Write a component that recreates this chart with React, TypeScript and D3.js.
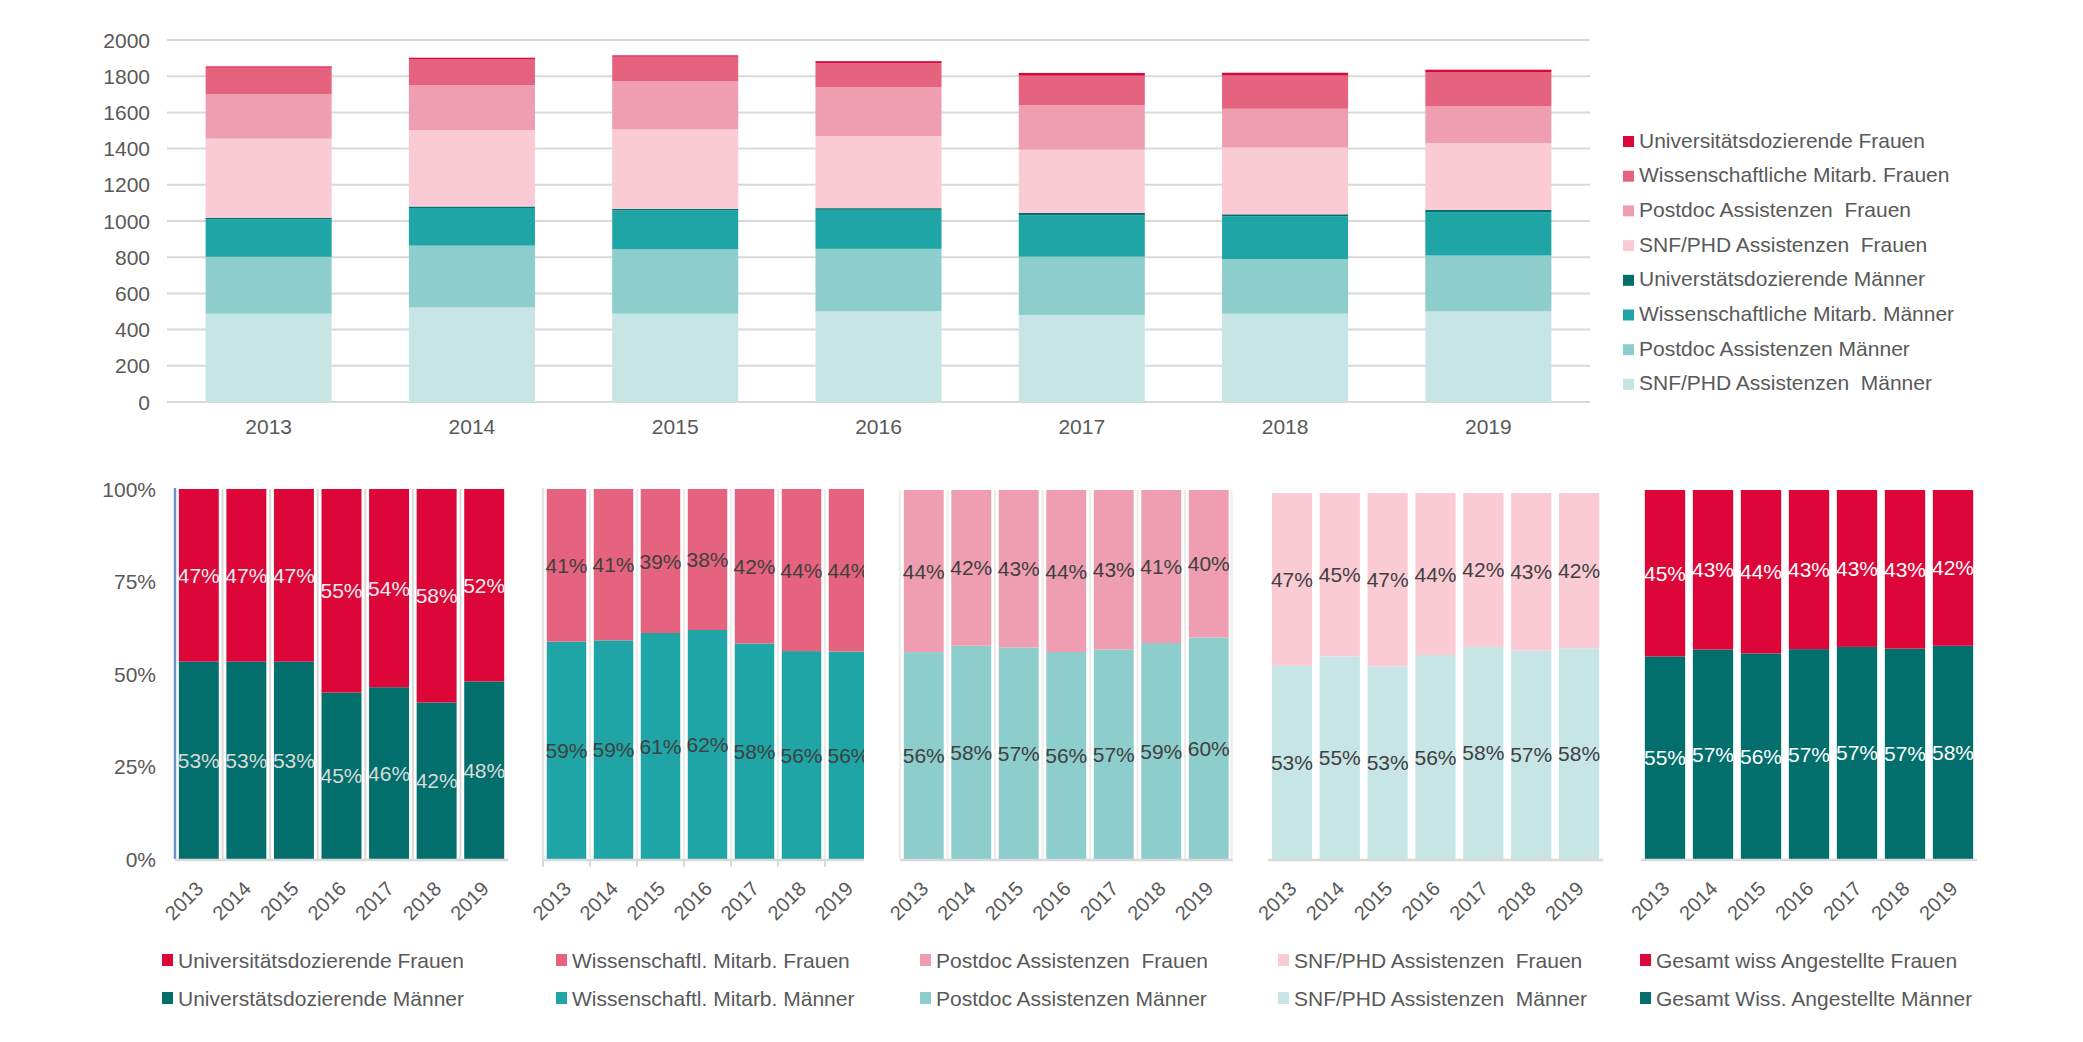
import * as d3 from 'd3'

// Jahre
const years = ['2013', '2014', '2015', '2016', '2017', '2018', '2019']

// Personen pro Kategorie
const snfM = [488, 523, 488, 501, 481, 488, 501]
const postdocM = [314, 341, 356, 345, 322, 302, 308]
const wissM = [208, 208, 215, 216, 229, 236, 240]
const uniM = [8, 8, 8, 9, 13, 11, 12]
const snfF = [437, 422, 439, 398, 349, 369, 369]
const postdocF = [246, 249, 265, 270, 245, 214, 205]
const wissF = [146, 144, 137, 133, 164, 184, 188]
const uniF = [7, 7, 7, 11, 15, 15, 13]

const yTicks = [0, 200, 400, 600, 800, 1000, 1200, 1400, 1600, 1800, 2000]
const pctTicks = [0, 0.25, 0.5, 0.75, 1]

const topLegend = [
  'Universitätsdozierende Frauen',
  'Wissenschaftliche Mitarb. Frauen',
  'Postdoc Assistenzen  Frauen',
  'SNF/PHD Assistenzen  Frauen',
  'Universtätsdozierende Männer',
  'Wissenschaftliche Mitarb. Männer',
  'Postdoc Assistenzen Männer',
  'SNF/PHD Assistenzen  Männer',
]

const C = {
  uniF: '#DC0639',
  wissF: '#E5637F',
  postdocF: '#EF9EB2',
  snfF: '#FACBD5',
  uniM: '#026F6C',
  wissM: '#1FA5A5',
  postdocM: '#8DCDCC',
  snfM: '#C8E5E5',
}

const FONT = '"Liberation Sans", Arial, sans-serif'
const TEXT = '#595959'
const GRID = '#D9D9D9'

const keys = ['snfM', 'postdocM', 'wissM', 'uniM', 'snfF', 'postdocF', 'wissF', 'uniF'] as const
const legendKeys = ['uniF', 'wissF', 'postdocF', 'snfF', 'uniM', 'wissM', 'postdocM', 'snfM'] as const

const sum = (...arrs: number[][]) => years.map((_, i) => arrs.reduce((s, a) => s + a[i], 0))
const gesamtM = sum(snfM, postdocM, wissM, uniM)
const gesamtF = sum(snfF, postdocF, wissF, uniF)

function TopChart() {
  const rows = years.map((year, i) => ({
    year,
    snfM: snfM[i], postdocM: postdocM[i], wissM: wissM[i], uniM: uniM[i],
    snfF: snfF[i], postdocF: postdocF[i], wissF: wissF[i], uniF: uniF[i],
  }))
  const series = d3.stack<any>().keys(keys as any)(rows)
  const x = d3.scaleBand<string>().domain(years).range([167, 1590]).paddingInner(0.38).paddingOuter(0.19)
  const y = d3.scaleLinear().domain([0, 2000]).range([402, 40])

  return (
    <g>
      {yTicks.map(t => (
        <g key={t}>
          <line x1={167} x2={1590} y1={y(t)} y2={y(t)} stroke={GRID} strokeWidth={2} />
          <text x={150} y={y(t) + 7.5} textAnchor="end" fontSize={21} fill={TEXT}>{t}</text>
        </g>
      ))}
      {series.map(s => (
        <g key={s.key} fill={(C as any)[s.key]}>
          {s.map((d, i) => (
            <rect key={i} x={x(years[i])} width={x.bandwidth()} y={y(d[1])} height={Math.max(0, y(d[0]) - y(d[1]))} />
          ))}
        </g>
      ))}
      {years.map(yr => (
        <text key={yr} x={(x(yr) ?? 0) + x.bandwidth() / 2} y={434} textAnchor="middle" fontSize={21} fill={TEXT}>{yr}</text>
      ))}
      {legendKeys.map((k, i) => {
        const cy = 140 + i * 34.7
        return (
          <g key={k}>
            <rect x={1623} y={cy - 4} width={11} height={11} fill={C[k]} />
            <text x={1639} y={cy + 7.5} fontSize={21} fill={TEXT} style={{ whiteSpace: 'pre' }}>{topLegend[i]}</text>
          </g>
        )
      })}
    </g>
  )
}

interface Panel {
  id: string
  m: number[]
  f: number[]
  cm: string
  cf: string
  labelM: string
  labelF: string
  legendF: string
  legendM: string
  x0: number
  x1: number
  top: number
  clipRight?: number
  sep?: string
  leftLine?: string
  rightLine?: string
  ticks?: boolean
  legX: number
}

const panels: Panel[] = [
  {
    id: 'p1', m: uniM, f: uniF, cm: C.uniM, cf: C.uniF, labelM: '#DADADA', labelF: '#EEEEEE',
    legendF: 'Universitätsdozierende Frauen', legendM: 'Universtätsdozierende Männer',
    x0: 175, x1: 508, top: 489, sep: '#D9D9D9', leftLine: '#6F8FCE', legX: 162,
  },
  {
    id: 'p2', m: wissM, f: wissF, cm: C.wissM, cf: C.wissF, labelM: '#404040', labelF: '#404040',
    legendF: 'Wissenschaftl. Mitarb. Frauen', legendM: 'Wissenschaftl. Mitarb. Männer',
    x0: 543, x1: 872, top: 489, clipRight: 864, sep: '#EDEDED', leftLine: '#E3E3E3', ticks: true, legX: 556,
  },
  {
    id: 'p3', m: postdocM, f: postdocF, cm: C.postdocM, cf: C.postdocF, labelM: '#404040', labelF: '#404040',
    legendF: 'Postdoc Assistenzen  Frauen', legendM: 'Postdoc Assistenzen Männer',
    x0: 900, x1: 1232.5, top: 490, sep: '#EDEDED', leftLine: '#EDEDED', rightLine: '#EDEDED', legX: 920,
  },
  {
    id: 'p4', m: snfM, f: snfF, cm: C.snfM, cf: C.snfF, labelM: '#404040', labelF: '#404040',
    legendF: 'SNF/PHD Assistenzen  Frauen', legendM: 'SNF/PHD Assistenzen  Männer',
    x0: 1268, x1: 1603, top: 493, legX: 1278,
  },
  {
    id: 'p5', m: gesamtM, f: gesamtF, cm: C.uniM, cf: C.uniF, labelM: '#FFFFFF', labelF: '#FFFFFF',
    legendF: 'Gesamt wiss Angestellte Frauen', legendM: 'Gesamt Wiss. Angestellte Männer',
    x0: 1641, x1: 1977, top: 490, legX: 1640,
  },
]

function PctPanel({ p }: { p: Panel }) {
  const base = 859
  const x = d3.scaleBand<string>().domain(years).range([p.x0, p.x1]).paddingInner(0.16).paddingOuter(0.08)
  const y = d3.scaleLinear().domain([0, 1]).range([base, p.top])
  const bw = x.bandwidth()
  const share = years.map((_, i) => p.m[i] / (p.m[i] + p.f[i]))
  const pct = d3.format('.0%')
  const clipId = `clip-${p.id}`
  const step = x.step()

  return (
    <g>
      {p.clipRight && (
        <defs>
          <clipPath id={clipId}>
            <rect x={p.x0 - 5} y={p.top - 10} width={p.clipRight - p.x0 + 5} height={base - p.top + 20} />
          </clipPath>
        </defs>
      )}
      {p.sep && years.slice(1).map((yr, i) => (
        <line key={yr} x1={(x(yr) ?? 0) - (step - bw) / 2} x2={(x(yr) ?? 0) - (step - bw) / 2}
          y1={p.top} y2={base} stroke={p.sep} strokeWidth={2} />
      ))}
      <g clipPath={p.clipRight ? `url(#${clipId})` : undefined}>
        {years.map((yr, i) => {
          const bx = x(yr) ?? 0
          const cx = bx + bw / 2
          return (
            <g key={yr}>
              <rect x={bx} width={bw} y={y(share[i])} height={base - y(share[i])} fill={p.cm} />
              <rect x={bx} width={bw} y={y(1)} height={y(share[i]) - y(1)} fill={p.cf} />
              <text x={cx} y={y(share[i] / 2) + 7.5} textAnchor="middle" fontSize={21} fill={p.labelM}>{pct(share[i])}</text>
              <text x={cx} y={y(share[i] + (1 - share[i]) / 2) + 7.5} textAnchor="middle" fontSize={21} fill={p.labelF}>{pct(1 - share[i])}</text>
            </g>
          )
        })}
      </g>
      {p.leftLine && <line x1={p.x0} x2={p.x0} y1={p.top - 1} y2={base} stroke={p.leftLine} strokeWidth={2.5} />}
      {p.rightLine && <line x1={p.x1 - 1} x2={p.x1 - 1} y1={p.top} y2={base} stroke={p.rightLine} strokeWidth={2} />}
      <line x1={p.x0} x2={p.clipRight ?? p.x1} y1={base + 1} y2={base + 1} stroke={GRID} strokeWidth={2.5} />
      {p.ticks && years.map((yr, i) => {
        const tx = (x(yr) ?? 0) - (i === 0 ? (step - bw) / 2 + x.paddingOuter() * 0 : (step - bw) / 2)
        return <line key={yr} x1={i === 0 ? p.x0 : tx} x2={i === 0 ? p.x0 : tx} y1={base} y2={base + 8} stroke={GRID} strokeWidth={2} />
      })}
      {years.map(yr => {
        const cx = (x(yr) ?? 0) + bw / 2
        return (
          <text key={yr} transform={`translate(${cx + 1},${885}) rotate(-45)`} textAnchor="end" dy="0.35em"
            fontSize={20} fill={TEXT}>{yr}</text>
        )
      })}
      <rect x={p.legX} y={954} width={11} height={12} fill={p.cf} />
      <text x={p.legX + 16} y={967.5} fontSize={21} fill={TEXT} style={{ whiteSpace: 'pre' }}>{p.legendF}</text>
      <rect x={p.legX} y={992} width={11} height={12} fill={p.cm} />
      <text x={p.legX + 16} y={1005.5} fontSize={21} fill={TEXT} style={{ whiteSpace: 'pre' }}>{p.legendM}</text>
    </g>
  )
}

export default function App() {
  const yPct = d3.scaleLinear().domain([0, 1]).range([859, 489])
  return (
    <svg width={2083} height={1042} style={{ position: 'absolute', left: 0, top: 0, background: '#fff' }}
      fontFamily={FONT}>
      <TopChart />
      {pctTicks.map(t => (
        <text key={t} x={156} y={yPct(t) + 7.5} textAnchor="end" fontSize={21} fill={TEXT}>{d3.format('.0%')(t)}</text>
      ))}
      {panels.map(p => <PctPanel key={p.id} p={p} />)}
    </svg>
  )
}
